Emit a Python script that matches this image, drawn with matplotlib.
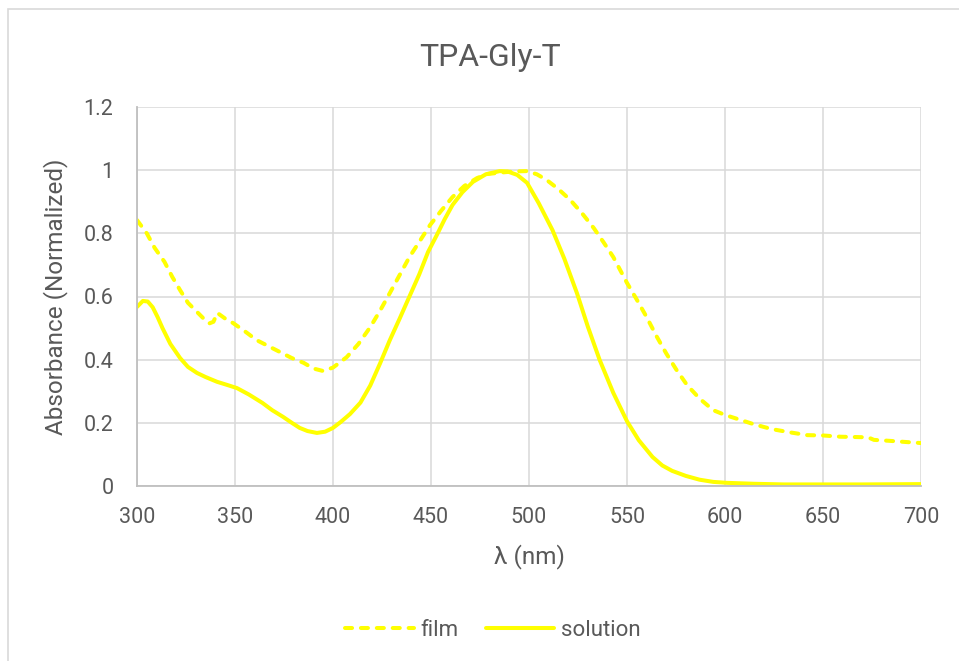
import matplotlib
matplotlib.use("Agg")
import matplotlib.pyplot as plt
from matplotlib.patches import Rectangle

# Film absorbance
film_nm = [300, 305, 309, 314, 318, 322, 326, 330, 334, 337, 339, 341, 345, 349,
           355, 361, 367, 373, 379, 385, 390, 395, 400, 407, 413, 419, 424, 429,
           434, 439, 444, 449.5, 455, 461, 467, 473.5, 479, 485, 492, 499, 504,
           509, 515, 521, 527, 533, 538, 543, 550, 555, 560, 565, 570, 575, 580.6,
           587, 594, 600, 608, 615, 624, 633, 642, 650, 659, 667, 673, 676, 684,
           693, 700]
film_abs = [0.842, 0.80, 0.754, 0.71, 0.662, 0.62, 0.58, 0.555, 0.53, 0.515, 0.52,
            0.548, 0.53, 0.516, 0.49, 0.462, 0.443, 0.424, 0.405, 0.39, 0.372,
            0.364, 0.375, 0.408, 0.45, 0.503, 0.555, 0.611, 0.668, 0.725, 0.773,
            0.826, 0.87, 0.915, 0.95, 0.975, 0.988, 0.992, 0.996, 0.997, 0.987,
            0.969, 0.94, 0.906, 0.864, 0.817, 0.772, 0.725, 0.643, 0.59, 0.535,
            0.475, 0.42, 0.37, 0.32, 0.277, 0.24, 0.225, 0.209, 0.195, 0.18, 0.17,
            0.161, 0.16, 0.156, 0.155, 0.154, 0.146, 0.143, 0.139, 0.136]

# Solution absorbance
sol_nm = [300, 303, 305.5, 308, 310.5, 313, 317, 322, 326, 330.6, 335, 340.8, 346,
          351, 357, 364, 369, 374.5, 379, 383, 387, 391.8, 396, 400, 404, 408.7,
          414, 419, 424, 429, 434, 439, 444, 448.5, 453, 457, 461, 466, 471.4, 478,
          485, 489, 494, 499, 505, 512, 518, 524.5, 530, 536, 543, 550, 556, 563,
          568, 573, 580, 587, 594, 601, 615, 630, 650, 670, 700]
sol_abs = [0.567, 0.586, 0.584, 0.566, 0.535, 0.50, 0.45, 0.405, 0.377, 0.358, 0.345,
           0.33, 0.32, 0.31, 0.29, 0.263, 0.24, 0.219, 0.20, 0.184, 0.174, 0.168,
           0.172, 0.184, 0.203, 0.228, 0.264, 0.318, 0.388, 0.462, 0.53, 0.60, 0.67,
           0.741, 0.795, 0.845, 0.89, 0.93, 0.963, 0.987, 0.997, 0.996, 0.985, 0.96,
           0.895, 0.81, 0.72, 0.61, 0.505, 0.40, 0.295, 0.205, 0.145, 0.092, 0.065,
           0.048, 0.032, 0.02, 0.013, 0.01, 0.007, 0.005, 0.005, 0.005, 0.006]

x_ticks = [300, 350, 400, 450, 500, 550, 600, 650, 700]
y_ticks = [0, 0.2, 0.4, 0.6, 0.8, 1, 1.2]
y_tick_labels = ["0", "0.2", "0.4", "0.6", "0.8", "1", "1.2"]

plt.rcParams['font.family'] = ['Roboto', 'DejaVu Sans']
text_color = '#595959'
line_color = '#FFFF00'

fig = plt.figure(figsize=(9.59, 6.61), dpi=100)
ax = fig.add_axes([137 / 959, 1 - 486 / 661, 784 / 959, 379 / 661])

# chart border (only top/left visible in the reference)
fig.patches.append(Rectangle((8 / 959, -0.1), 1.2, (661 - 9) / 661 + 0.1,
                             transform=fig.transFigure, fill=False,
                             edgecolor='#D9D9D9', linewidth=1.2))

ax.plot(film_nm, film_abs, color=line_color, lw=2.9, label='film',
        linestyle=(0, (1.75, 2.2)), dash_capstyle='round', solid_joinstyle='round')
ax.plot(sol_nm, sol_abs, color=line_color, lw=2.9, label='solution',
        solid_capstyle='round', solid_joinstyle='round')

ax.set_xlim(300, 700)
ax.set_ylim(0, 1.2)
ax.set_xticks(x_ticks)
ax.set_yticks(y_ticks)
ax.set_yticklabels(y_tick_labels)
ax.grid(True, color='#D9D9D9', linewidth=1.1)
ax.set_axisbelow(True)
ax.tick_params(length=0, labelsize=15.5, labelcolor=text_color)
ax.tick_params(axis='y', pad=17)
ax.tick_params(axis='x', pad=15)
for side in ['top', 'right']:
    ax.spines[side].set_visible(False)
for side in ['left', 'bottom']:
    ax.spines[side].set_color('#BFBFBF')
    ax.spines[side].set_linewidth(1.3)

ax.set_xlabel('λ (nm)', fontsize=17.5, color=text_color, labelpad=12)
ax.set_ylabel('Absorbance (Normalized)', fontsize=17.5, color=text_color, labelpad=11)

fig.text(490 / 959, 1 - 58 / 661, 'TPA-Gly-T', ha='center', va='center',
         fontsize=23, color=text_color)

leg = fig.legend(loc='center', bbox_to_anchor=(493 / 959, 1 - 630 / 661), ncol=2,
                 frameon=False, fontsize=16, handlelength=3.1, handletextpad=0.3,
                 columnspacing=1.2, labelcolor=text_color)

fig.savefig('out.png', dpi=100)
